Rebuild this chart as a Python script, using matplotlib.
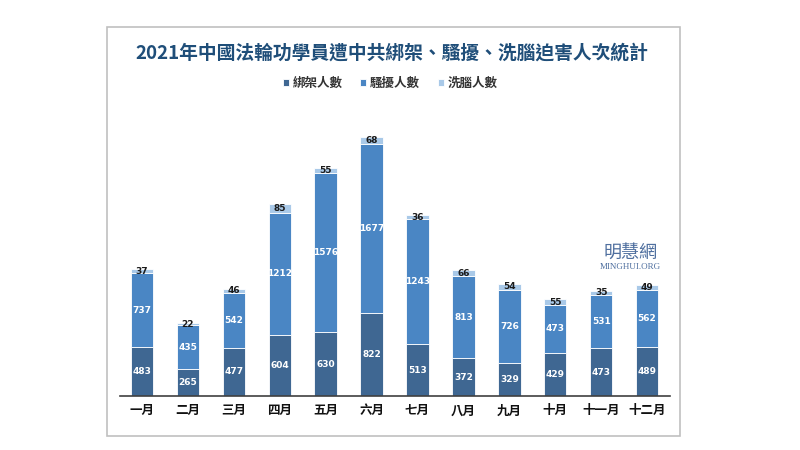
import matplotlib
matplotlib.use("Agg")
import matplotlib.pyplot as plt
from matplotlib.patches import Rectangle
import numpy as np

plt.rcParams['font.family'] = ['Noto Sans CJK TC', 'DejaVu Sans']

months = ["一月", "二月", "三月", "四月", "五月", "六月", "七月", "八月", "九月", "十月", "十一月", "十二月"]
abducted = [483, 265, 477, 604, 630, 822, 513, 372, 329, 429, 473, 489]
harassed = [737, 435, 542, 1212, 1576, 1677, 1243, 813, 726, 473, 531, 562]
brainwashed = [37, 22, 46, 85, 55, 68, 36, 66, 54, 55, 35, 49]
series_names = ["綁架人數", "騷擾人數", "洗腦人數"]
title = "2021年中國法輪功學員遭中共綁架、騷擾、洗腦迫害人次統計"

c_dark = "#3f6792"
c_mid = "#4a86c4"
c_light = "#a9c9e8"

fig = plt.figure(figsize=(8, 4.5), dpi=100)
fig.patch.set_facecolor("white")

# outer frame
fig.patches.append(Rectangle((107/800, 1-436/450), (680-107)/800, (436-27)/450,
                             transform=fig.transFigure, fill=False,
                             edgecolor="#c0c0c0", linewidth=1.2))

ax = fig.add_axes([120/800, 1-396/450, (670-120)/800, (396-110)/450])
x = np.arange(len(months))
w = 0.49
a = np.array(abducted); h = np.array(harassed); b = np.array(brainwashed)
ax.bar(x, a, w, color=c_dark, edgecolor="white", linewidth=0.6, label=series_names[0])
ax.bar(x, h, w, bottom=a, color=c_mid, edgecolor="white", linewidth=0.6, label=series_names[1])
ax.bar(x, b, w, bottom=a+h, color=c_light, edgecolor="white", linewidth=0.6, label=series_names[2])

for i in range(len(months)):
    ax.text(x[i], a[i]/2, str(a[i]), ha="center", va="center", color="white",
            fontsize=6.5, fontweight="bold", family=["DejaVu Sans"])
    ax.text(x[i], a[i] + h[i]/2, str(h[i]), ha="center", va="center", color="white",
            fontsize=6.5, fontweight="bold", family=["DejaVu Sans"])
    ax.text(x[i], a[i] + h[i] + b[i]/2, str(b[i]), ha="center", va="center", color="#1a1a1a",
            fontsize=6.5, fontweight="bold", family=["DejaVu Sans"])

ax.set_xlim(-0.48, 11.5)
ax.set_ylim(0, 2835)
for s in ["top", "right", "left"]:
    ax.spines[s].set_visible(False)
ax.spines["bottom"].set_color("#404040")
ax.spines["bottom"].set_linewidth(1.2)
ax.set_yticks([])
ax.set_xticks(x)
ax.set_xticklabels(months, fontsize=9, fontweight="bold", color="#111111")
ax.tick_params(axis="x", length=0, pad=6)

fig.text(392/800, 1-53/450, title, ha="center", va="center", fontsize=13.5,
         fontweight="bold", color="#1f4e79")

leg = fig.legend(loc="center", bbox_to_anchor=(390/800, 1-83/450), ncol=3, frameon=False,
                 fontsize=9, handlelength=0.5, handleheight=0.5, handletextpad=0.3,
                 columnspacing=1.4)
for t in leg.get_texts():
    t.set_fontweight("bold")
    t.set_color("#333333")

fig.text(631/800, 1-253/450, "明慧網", ha="center", va="center", fontsize=13,
         color="#4f6f9f", family=["Noto Sans CJK TC"])
fig.text(630/800, 1-267/450, "MINGHUI.ORG", ha="center", va="center", fontsize=6.5,
         color="#4f6f9f", family=["Liberation Serif"])

fig.savefig("out.png", dpi=100)
